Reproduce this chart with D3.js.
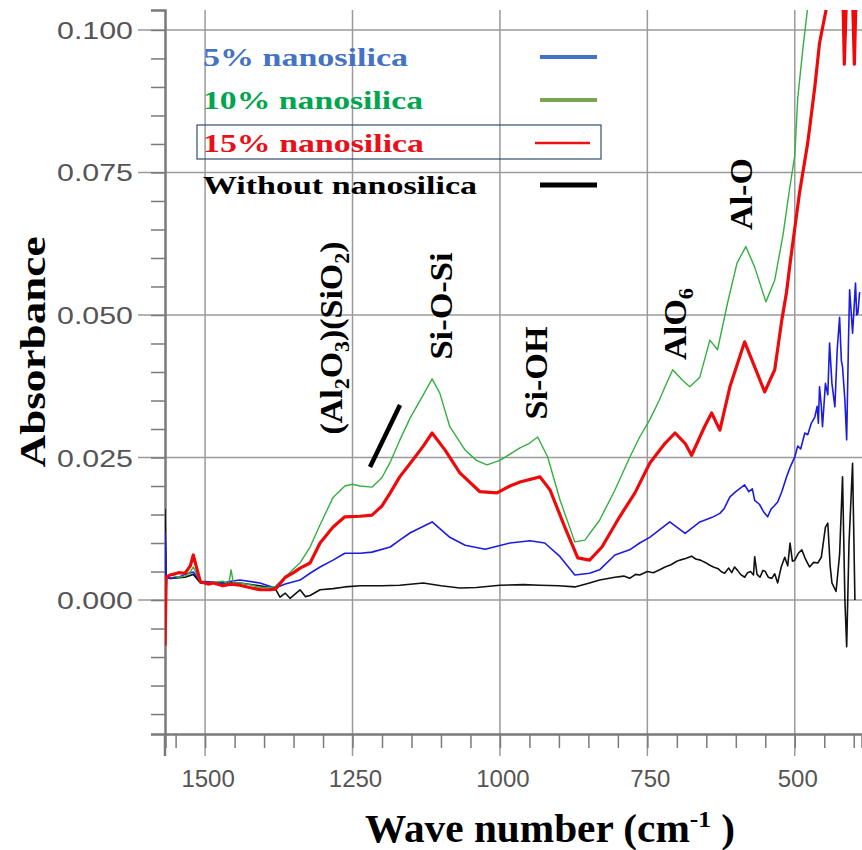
<!DOCTYPE html>
<html><head><meta charset="utf-8">
<script src="https://cdn.jsdelivr.net/npm/d3@7"></script>
<style>body{margin:0;background:#fff}svg{display:block}</style>
</head><body>
<svg id="c" width="862" height="850"></svg>
<script>
// ---------- DATA ----------
const xTicks = [1500, 1250, 1000, 750, 500];
const yTicks = [0.000, 0.025, 0.050, 0.075, 0.100];
const yTickLabels = ["0.000", "0.025", "0.050", "0.075", "0.100"];
const legendLabels = ["5% nanosilica", "10% nanosilica", "15% nanosilica", "Without nanosilica"];

const green10 = [[1568,-0.003],[1565,0.004],[1559,0.0044],[1545,0.004],[1534,0.0042],[1526,0.0048],[1520,0.0058],[1514,0.0045],[1508,0.0032],[1495,0.003],[1486,0.0031],[1470,0.0033],[1460,0.0028],[1456,0.0053],[1452,0.003],[1441,0.003],[1420,0.0026],[1407,0.0022],[1390,0.0022],[1381,0.0024],[1364,0.004],[1350,0.0055],[1339,0.0065],[1322,0.0093],[1305,0.0132],[1283,0.018],[1263,0.020],[1250,0.0203],[1237,0.020],[1217,0.0198],[1200,0.0215],[1186,0.0242],[1170,0.028],[1152,0.032],[1130,0.036],[1115,0.0388],[1102,0.0363],[1085,0.0304],[1059,0.0263],[1040,0.0245],[1022,0.0237],[1000,0.0245],[983,0.0256],[966,0.0267],[950,0.0275],[936,0.0286],[919,0.0251],[898,0.0175],[873,0.0102],[856,0.0105],[831,0.014],[805,0.0193],[780,0.025],[763,0.0286],[746,0.0316],[730,0.035],[720,0.0374],[707,0.0404],[690,0.0385],[678,0.0374],[661,0.0391],[644,0.0456],[631,0.0439],[614,0.0521],[598,0.0591],[583,0.062],[568,0.0584],[549,0.0523],[534,0.0561],[520,0.064],[509,0.072],[500,0.078],[495,0.088],[486,0.097],[478,0.104],[470,0.110]];

const red15 = [[1568,-0.008],[1566,0.004],[1559,0.0044],[1545,0.0048],[1534,0.0047],[1525,0.006],[1520,0.0079],[1514,0.0055],[1508,0.0032],[1495,0.0028],[1486,0.003],[1470,0.0025],[1456,0.0028],[1441,0.0026],[1425,0.0022],[1407,0.0018],[1390,0.0018],[1381,0.0019],[1364,0.004],[1350,0.0048],[1339,0.0056],[1322,0.0065],[1305,0.010],[1283,0.0128],[1263,0.0146],[1237,0.0147],[1217,0.0149],[1200,0.0165],[1186,0.0188],[1170,0.0216],[1152,0.024],[1130,0.027],[1115,0.0293],[1093,0.0263],[1068,0.0223],[1034,0.019],[1005,0.0188],[983,0.020],[966,0.0207],[932,0.0216],[915,0.0193],[890,0.0128],[868,0.0074],[848,0.007],[827,0.0093],[797,0.0146],[771,0.0188],[746,0.024],[720,0.0275],[703,0.0293],[686,0.0275],[675,0.0254],[653,0.0304],[641,0.0328],[627,0.0298],[610,0.0374],[585,0.0453],[568,0.0409],[551,0.0365],[534,0.0404],[522,0.0491],[514,0.054],[508,0.059],[492,0.0714],[478,0.0802],[466,0.090],[458,0.0977],[446,0.104],[436,0.115],[420,0.115],[416,0.094],[411,0.11],[403,0.11],[399,0.094],[395,0.11],[388,0.115]];

const blue5 = [[1568,0.012],[1566,0.004],[1559,0.0038],[1545,0.004],[1534,0.0045],[1520,0.0049],[1508,0.0033],[1495,0.0032],[1470,0.003],[1456,0.0033],[1441,0.0035],[1407,0.003],[1381,0.0021],[1364,0.0028],[1339,0.0035],[1322,0.0047],[1305,0.0058],[1283,0.007],[1263,0.0082],[1237,0.0082],[1217,0.0084],[1186,0.0093],[1170,0.0105],[1152,0.0118],[1115,0.0137],[1085,0.011],[1059,0.0096],[1025,0.0089],[983,0.010],[949,0.0104],[924,0.010],[898,0.0076],[873,0.0044],[848,0.0047],[831,0.0053],[805,0.0079],[780,0.0088],[763,0.010],[746,0.011],[712,0.0137],[686,0.0117],[661,0.0137],[640,0.0145],[627,0.0152],[620,0.016],[610,0.0181],[600,0.019],[594,0.0195],[585,0.0202],[578,0.019],[572,0.0195],[568,0.0175],[560,0.0168],[553,0.0155],[546,0.0146],[540,0.016],[535,0.0165],[529,0.0172],[522,0.019],[514,0.0216],[507,0.0235],[500,0.0251],[495,0.027],[490,0.0265],[483,0.0293],[478,0.029],[472,0.031],[466,0.0321],[462,0.034],[460,0.031],[458,0.0374],[455,0.034],[453,0.0304],[448,0.038],[444,0.036],[441,0.0451],[437,0.038],[432,0.0339],[428,0.044],[424,0.0496],[421,0.042],[419,0.0409],[415,0.035],[412,0.0281],[409,0.045],[407,0.0544],[404,0.050],[402,0.0468],[399,0.052],[397,0.0556],[395,0.050],[393,0.0503],[390,0.054]];

const black0 = [[1568,0.016],[1566,0.004],[1559,0.0038],[1534,0.004],[1520,0.0045],[1508,0.003],[1486,0.003],[1456,0.003],[1441,0.003],[1407,0.0025],[1381,0.002],[1373,0.0005],[1364,0.0012],[1356,0.0003],[1348,0.001],[1339,0.0018],[1330,0.0006],[1322,0.0008],[1305,0.0018],[1283,0.002],[1263,0.0023],[1237,0.0025],[1200,0.0025],[1170,0.0026],[1130,0.003],[1100,0.0025],[1068,0.0021],[1040,0.0022],[1000,0.0026],[960,0.0027],[932,0.0026],[900,0.0025],[873,0.0023],[848,0.003],[831,0.0035],[805,0.004],[790,0.0042],[780,0.0038],[770,0.0045],[763,0.0044],[750,0.005],[740,0.0048],[729,0.0053],[720,0.0058],[710,0.0062],[700,0.0068],[695,0.007],[685,0.0073],[675,0.0077],[668,0.0072],[660,0.007],[652,0.0066],[644,0.0061],[638,0.0058],[630,0.0055],[625,0.005],[619,0.0047],[612,0.0056],[607,0.0048],[602,0.0058],[597,0.0052],[592,0.0045],[585,0.004],[580,0.0048],[575,0.005],[570,0.0044],[568,0.0076],[564,0.0045],[559,0.004],[554,0.0052],[550,0.005],[545,0.004],[539,0.0038],[534,0.0046],[529,0.003],[523,0.0058],[517,0.0075],[512,0.006],[508,0.010],[504,0.0068],[500,0.007],[494,0.0082],[488,0.0088],[482,0.0072],[475,0.0058],[468,0.0066],[461,0.0065],[455,0.0075],[448,0.0128],[444,0.0135],[440,0.006],[437,0.003],[430,0.0015],[424,0.008],[419,0.0216],[415,0.0],[412,-0.0082],[408,0.010],[402,0.024],[398,0.0]];

// ---------- SCALES ----------
const svg = d3.select("#c");
const x = d3.scaleLinear().domain([1568, 386]).range([165, 862]);
const y = d3.scaleLinear().domain([-0.0235, 0.1035]).range([734, 10]);
const gridCol = "#9a9a9a", axisCol = "#7a7a7a";

// grid
svg.append("g").selectAll("line").data(xTicks).join("line")
  .attr("x1", d => x(d)).attr("x2", d => x(d)).attr("y1", 10).attr("y2", 756)
  .attr("stroke", gridCol).attr("stroke-width", 1.5);
svg.append("g").selectAll("line").data(yTicks).join("line")
  .attr("x1", 138).attr("x2", 862).attr("y1", d => y(d)).attr("y2", d => y(d))
  .attr("stroke", gridCol).attr("stroke-width", 1.5);

// axes
const xAxis = d3.axisBottom(x).tickValues(d3.range(1550, 386, -50)).tickSize(14).tickFormat("");
const gx = svg.append("g").attr("transform", "translate(0,734)").call(xAxis);
gx.select(".domain").attr("stroke", axisCol).attr("stroke-width", 2.5);
gx.selectAll(".tick line").attr("stroke", axisCol).attr("stroke-width", 1.5);
const yAxis = d3.axisLeft(y).tickValues(d3.range(-0.02, 0.1001, 0.005)).tickSize(14).tickFormat("");
const gy = svg.append("g").attr("transform", "translate(165,0)").call(yAxis);
gy.select(".domain").attr("stroke", axisCol).attr("stroke-width", 2.5);
gy.selectAll(".tick line").attr("stroke", axisCol).attr("stroke-width", 1.5);
svg.append("line").attr("x1",165).attr("x2",165).attr("y1",734).attr("y2",756).attr("stroke",axisCol).attr("stroke-width",2.5);

// tick labels
svg.append("g").selectAll("text").data(yTicks).join("text")
  .attr("x", 133).attr("y", d => y(d) + 9).attr("text-anchor", "end")
  .attr("font-family", "Liberation Sans, Arial, sans-serif").attr("font-size", 24).attr("fill", "#555")
  .attr("textLength", 76).attr("lengthAdjust", "spacingAndGlyphs")
  .text((d, i) => yTickLabels[i]);
svg.append("g").selectAll("text").data(xTicks).join("text")
  .attr("x", d => x(d) + 3).attr("y", 787).attr("text-anchor", "middle")
  .attr("font-family", "Liberation Sans, Arial, sans-serif").attr("font-size", 24).attr("fill", "#555")
  .text(d => d);

// data lines
svg.append("defs").append("clipPath").attr("id", "clip").append("rect")
  .attr("x", 165).attr("y", 10).attr("width", 697).attr("height", 724);
const line = d3.line().x(d => x(d[0])).y(d => y(d[1]));
const series = [
  {data: black0, color: "#111", w: 1.6},
  {data: blue5, color: "#1c1ce0", w: 1.6},
  {data: green10, color: "#33b040", w: 1.4},
  {data: red15, color: "#ee0a0a", w: 3.2}
];
svg.append("g").attr("clip-path", "url(#clip)").selectAll("path").data(series).join("path")
  .attr("d", d => line(d.data)).attr("fill", "none")
  .attr("stroke", d => d.color).attr("stroke-width", d => d.w).attr("stroke-linejoin", "round");

// legend
const legColors = ["#4472c4", "#00a550", "#e8101a", "#000"];
const legLineCols = ["#4472c4", "#77a552", "#ee1111", "#000"];
const legW = [4, 4, 2.5, 5];
const legTL = [205, 220, 221, 274];
const legY = [57, 100, 143, 185];
const lg = svg.append("g");
lg.append("rect").attr("x", 197).attr("y", 125).attr("width", 404).attr("height", 34)
  .attr("fill", "none").attr("stroke", "#2f4f6f").attr("stroke-width", 1.2);
legendLabels.forEach((t, i) => {
  lg.append("text").attr("x", 203).attr("y", legY[i] + 9)
    .attr("font-family", "Liberation Serif, Times New Roman, serif").attr("font-weight", "bold")
    .attr("font-size", 26).attr("fill", legColors[i])
    .attr("textLength", legTL[i]).attr("lengthAdjust", "spacingAndGlyphs").text(t);
  lg.append("line").attr("x1", i === 2 ? 535 : 540).attr("x2", i === 2 ? 590 : 597)
    .attr("y1", legY[i]).attr("y2", legY[i]).attr("stroke", legLineCols[i]).attr("stroke-width", legW[i]);
});

// annotations (rotated)
const serif = "Liberation Serif, Times New Roman, serif";
function vlabel(cx, cy, parts, fs, len) {
  const t = svg.append("text").attr("transform", `translate(${cx},${cy}) rotate(-90)`)
    .attr("text-anchor", "middle").attr("font-family", serif).attr("font-weight", "bold")
    .attr("font-size", fs).attr("fill", "#000")
    .attr("textLength", len).attr("lengthAdjust", "spacingAndGlyphs");
  parts.forEach(p => {
    if (p.sub) t.append("tspan").attr("font-size", fs * 0.65).attr("dy", fs * 0.22).text(p.t);
    else t.append("tspan").attr("dy", p.after ? -fs * 0.22 : 0).text(p.t);
  });
  return t;
}
vlabel(342, 338, [{t:"(Al"},{t:"2",sub:1},{t:"O",after:1},{t:"3",sub:1},{t:")(SiO",after:1},{t:"2",sub:1},{t:")",after:1}], 31, 193);
vlabel(452, 306, [{t:"Si-O-Si"}], 31, 107);
vlabel(547, 373, [{t:"Si-OH"}], 31, 93);
vlabel(686, 324, [{t:"AlO"},{t:"6",sub:1}], 31, 72);
vlabel(752, 194, [{t:"Al-O"}], 31, 72);
svg.append("line").attr("x1", 370).attr("y1", 467).attr("x2", 400).attr("y2", 405)
  .attr("stroke", "#000").attr("stroke-width", 4.5);

// axis titles
svg.append("text").attr("transform", "translate(45,352) rotate(-90)").attr("text-anchor", "middle")
  .attr("font-family", serif).attr("font-weight", "bold").attr("font-size", 35)
  .attr("textLength", 231).attr("lengthAdjust", "spacingAndGlyphs").text("Absorbance");
const xt = svg.append("text").attr("x", 365).attr("y", 842)
  .attr("font-family", serif).attr("font-weight", "bold").attr("font-size", 39)
  .attr("textLength", 370).attr("lengthAdjust", "spacingAndGlyphs");
xt.append("tspan").text("Wave number (cm");
xt.append("tspan").attr("font-size", 24).attr("dy", -15).text("-1");
xt.append("tspan").attr("dy", 15).text(" )");
</script>
</body></html>
